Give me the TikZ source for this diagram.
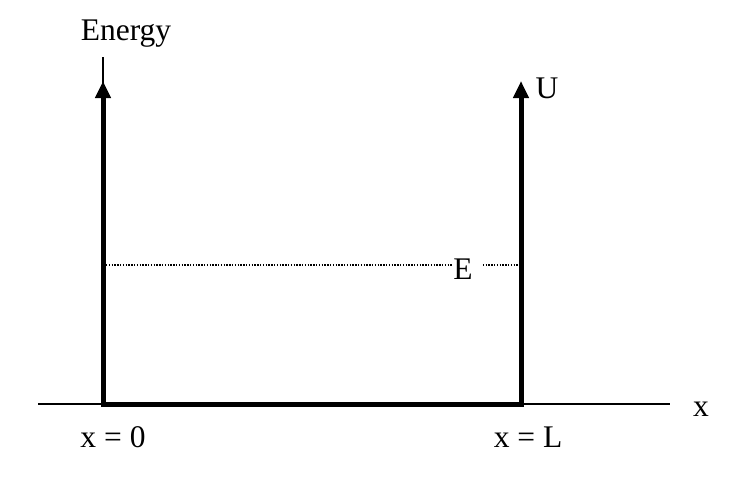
\documentclass[tikz,border=0pt]{standalone}
\usepackage{fontspec}
\setmainfont{Liberation Serif}
\usetikzlibrary{arrows.meta}
\begin{document}
\begin{tikzpicture}[x=1pt,y=-1pt,
  thinline/.style={line width=2pt},
  wall/.style={line width=5pt},
  wallarrow/.style={line width=5pt,-{Triangle[length=17pt,width=15pt]}},
  level/.style={line width=1.6pt,dash pattern=on 1.4pt off 1.4pt},
  lbl/.style={font=\fontsize{31.5}{36}\selectfont,inner sep=0pt,anchor=base}]
\useasboundingbox (0,0) rectangle (732,482);
\coordinate (o) at (103,404);
\coordinate (l) at (521,404);
\coordinate (axl) at (38,404);
\coordinate (axr) at (670,404);
\coordinate (ytop) at (103,57);
\coordinate (ltop) at (103,81);
\coordinate (rtop) at (521,81);
\coordinate (el) at (106,265);
\coordinate (er) at (518,265);
\node[lbl] (energy) at (126,40) {Energy};
\node[lbl] (u) at (547,98) {U};
\node[lbl] (e) at (463,279) {E};
\node[lbl] (xax) at (701,416) {x};
\node[lbl] (x0) at (113,447) {x = 0};
\node[lbl] (xL) at (528,447) {x = L};
% axes
\draw[thinline] (axl) -- (o);
\draw[thinline] (l) -- (axr);
\draw[thinline] (o) -- (ytop);
% well
\draw[wall,line cap=rect] (o) -- (l);
\draw[wallarrow] (o) -- (ltop);
\draw[wallarrow] (l) -- (rtop);
% energy level
\draw[level] (el) -- (el -| e.west);
\draw[level] (er -| e.east) ++(10,0) -- (er);
\end{tikzpicture}
\end{document}
